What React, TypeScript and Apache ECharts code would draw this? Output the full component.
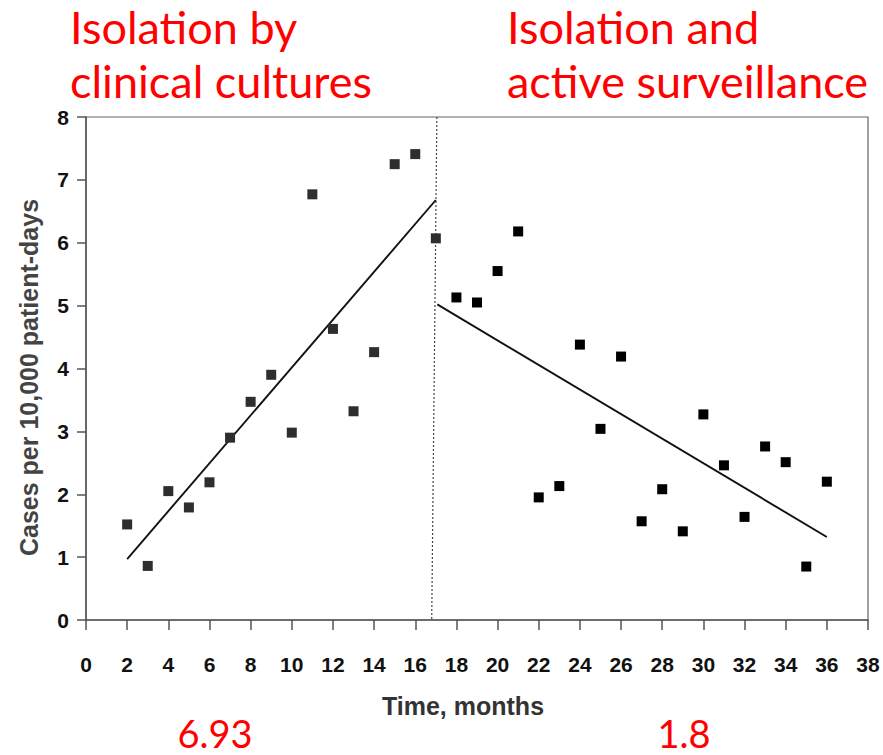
import React, { useEffect, useRef } from "react";
import * as echarts from "echarts";

const leftMonths = [2, 3, 4, 5, 6, 7, 8, 9, 10, 11, 12, 13, 14, 15, 16, 17];
const leftRates = [1.52, 0.86, 2.05, 1.79, 2.19, 2.9, 3.47, 3.9, 2.98, 6.77, 4.63, 3.32, 4.26, 7.25, 7.41, 6.07];
const rightMonths = [18, 19, 20, 21, 22, 23, 24, 25, 26, 27, 28, 29, 30, 31, 32, 33, 34, 35, 36];
const rightRates = [5.13, 5.05, 5.55, 6.18, 1.95, 2.13, 4.38, 3.04, 4.19, 1.57, 2.08, 1.41, 3.27, 2.46, 1.64, 2.76, 2.51, 0.85, 2.2];
const leftTrend = [[2, 0.97], [17, 6.68]];
const rightTrend = [[17.07, 5.02], [36, 1.32]];
const interventionLine = [[17.05, 8], [16.8, 0]];
const titleLeft = "Isolation by\nclinical cultures";
const titleRight = "Isolation and\nactive surveillance";
const valueLeft = "6.93";
const valueRight = "1.8";
const xName = "Time, months";
const yName = "Cases per 10,000 patient-days";

export default function App() {
  const ref = useRef<HTMLDivElement>(null);
  useEffect(() => {
    if (!ref.current) return;
    const chart = echarts.init(ref.current, null, { renderer: "svg" });
    const axisFont = "Liberation Sans";
    const option: any = {
      animation: false,
      backgroundColor: "#ffffff",
      grid: {
        left: 86,
        top: 117,
        right: 15,
        bottom: 135,
        show: true,
        borderColor: "#666",
        borderWidth: 1.2,
        backgroundColor: "transparent",
      },
      xAxis: {
        type: "value",
        min: 0,
        max: 38,
        interval: 2,
        name: xName,
        nameLocation: "middle",
        nameGap: 73,
        nameTextStyle: {
          fontFamily: axisFont,
          fontWeight: "bold",
          fontSize: 25,
          color: "#333",
          padding: [0, 28, 0, 0],
        },
        axisLine: { show: true, onZero: false, lineStyle: { color: "#555", width: 1.5 } },
        axisTick: { show: true, length: 10, lineStyle: { color: "#555", width: 1.5 } },
        axisLabel: {
          margin: 34,
          fontFamily: axisFont,
          fontWeight: "bold",
          fontSize: 21,
          color: "#111",
        },
        splitLine: { show: false },
      },
      yAxis: {
        type: "value",
        min: 0,
        max: 8,
        interval: 1,
        name: yName,
        nameLocation: "middle",
        nameGap: 45,
        nameTextStyle: {
          fontFamily: axisFont,
          fontWeight: "bold",
          fontSize: 25,
          color: "#444",
          padding: [0, 18, 0, 0],
        },
        axisLine: { show: true, onZero: false, lineStyle: { color: "#555", width: 1.5 } },
        axisTick: { show: true, length: 9, lineStyle: { color: "#555", width: 1.5 } },
        axisLabel: {
          margin: 17,
          fontFamily: axisFont,
          fontWeight: "bold",
          fontSize: 21,
          color: "#111",
        },
        splitLine: { show: false },
      },
      series: [
        {
          type: "line",
          data: interventionLine,
          symbol: "none",
          lineStyle: { color: "#444", width: 1.2, type: [2, 2] },
          z: 1,
        },
        {
          type: "scatter",
          data: leftMonths.map((m, i) => [m, leftRates[i]]),
          symbol: "rect",
          symbolSize: 10,
          itemStyle: { color: "#2e2e2e", opacity: 1 },
          z: 3,
        },
        {
          type: "scatter",
          data: rightMonths.map((m, i) => [m, rightRates[i]]),
          symbol: "rect",
          symbolSize: 10,
          itemStyle: { color: "#000", opacity: 1 },
          z: 3,
        },
        {
          type: "line",
          data: leftTrend,
          symbol: "none",
          lineStyle: { color: "#111", width: 1.9 },
          z: 2,
        },
        {
          type: "line",
          data: rightTrend,
          symbol: "none",
          lineStyle: { color: "#111", width: 1.9 },
          z: 2,
        },
      ],
      graphic: [
        {
          type: "text",
          left: 70,
          top: 0,
          style: {
            text: titleLeft,
            font: "45px Lato",
            fill: "#ff0000",
            lineHeight: 54,
          },
        },
        {
          type: "text",
          left: 507,
          top: 0,
          style: {
            text: titleRight,
            font: "45px Lato",
            fill: "#ff0000",
            lineHeight: 54,
          },
        },
        {
          type: "text",
          x: 215,
          y: 733,
          style: {
            text: valueLeft,
            font: "38px Lato",
            fill: "#ff0000",
            align: "center",
            verticalAlign: "middle",
          },
        },
        {
          type: "text",
          x: 684,
          y: 733,
          style: {
            text: valueRight,
            font: "38px Lato",
            fill: "#ff0000",
            align: "center",
            verticalAlign: "middle",
          },
        },
      ],
    };
    chart.setOption(option);
    return () => chart.dispose();
  }, []);
  return (
    <div
      ref={ref}
      style={{ position: "fixed", left: 0, top: 0, width: 883, height: 755, background: "#fff" }}
    />
  );
}
